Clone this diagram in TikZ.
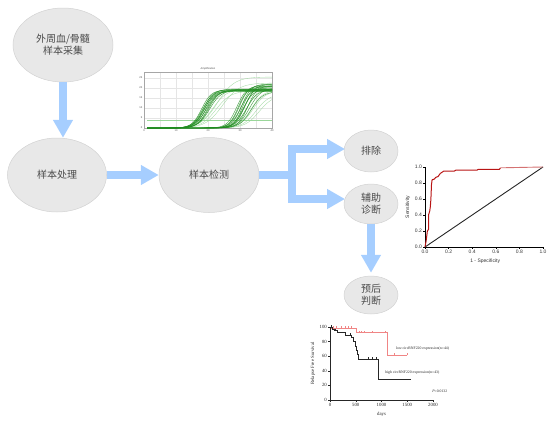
\documentclass[tikz,border=0pt]{standalone}
\usepackage{fontspec}
\setmainfont{Liberation Sans}
\newfontfamily\cjk{Noto Sans CJK SC}
\newfontfamily\plotserif{Liberation Serif}
\usetikzlibrary{arrows.meta,shapes.geometric}
\definecolor{flowblue}{HTML}{A6CEFF}
\definecolor{ellfill}{HTML}{E8E8E8}
\definecolor{elldraw}{HTML}{D2D2D2}
\definecolor{cjktext}{HTML}{4A4A4A}
\definecolor{pcrdark}{HTML}{1E8C1E}
\definecolor{pcrlight}{HTML}{9AD69A}
\definecolor{rocred}{HTML}{B81414}
\definecolor{kmred}{HTML}{F08585}
\tikzset{
  stage/.style={ellipse, fill=ellfill, draw=elldraw, line width=0.5pt, inner sep=0pt,
    align=center, text=cjktext, font=\cjk\fontsize{10}{12}\selectfont},
  flow/.style={draw=flowblue, line width=8pt, line join=miter,
    -{Triangle[width=19pt,length=18pt]}},
  flowline/.style={draw=flowblue, line width=8pt},
  tinylab/.style={font=\fontsize{2.6}{3}\selectfont, text=black!70, inner sep=0.6pt},
  roclab/.style={font=\fontsize{5}{6}\selectfont, text=black!80, inner sep=1pt},
  kmlab/.style={font=\plotserif\fontsize{4.8}{5.5}\selectfont, text=black!85, inner sep=1pt},
}
\begin{document}
\begin{tikzpicture}[x=1pt,y=-1pt]
\path[use as bounding box] (0,0) rectangle (554,424);

% ---- stages ----
\node[stage, minimum width=100pt, minimum height=74pt] (collect) at (63,45) {外周血/骨髓\\样本采集};
\node[stage, minimum width=99pt, minimum height=74pt] (handle) at (57,175) {样本处理};
\node[stage, minimum width=100pt, minimum height=75pt] (detect) at (209,175) {样本检测};
\node[stage, minimum width=54pt, minimum height=42pt] (exclude) at (371,151) {排除};
\node[stage, minimum width=54pt, minimum height=40pt] (diag) at (371,204) {辅助\\诊断};
\node[stage, minimum width=54pt, minimum height=38pt] (prog) at (371,295) {预后\\判断};

% ---- connectors ----
\coordinate (j) at (292,175);
\coordinate (e1) at (345,149);
\coordinate (e2) at (345,199);
\draw[flow] (collect.south) -- (collect.south |- handle.north);
\draw[flow] (handle) -- (detect);
\draw[flowline] (detect) -- (j);
\draw[flow] (j) |- (e1);
\draw[flow] (j) |- (e2);
\draw[flow, shorten >=3pt] (diag) -- (prog);

% ---- qPCR amplification plot ----
\node[tinylab] (amptitle) at (208,68.5) {Amplification};
\begin{scope}[shift={(144,128)}, x=3.2pt, y=2pt]
  \foreach \c in {5,10,...,35} \draw[black!10, line width=0.2pt] (\c,0) -- (\c,28);
  \foreach \v in {5,10,...,25} \draw[black!10, line width=0.2pt] (0,\v) -- (40,\v);
  \draw[black!35, line width=0.3pt] (0,0) rectangle (40,28);
  \foreach \c in {0,10,20,30,40} \node[tinylab, below] at (\c,-0.3) {\c};
  \foreach \v in {0,5,...,25} \node[tinylab, left] at (-0.3,\v) {\v};
  \draw[pcrlight, line width=1.3pt] (1,3.7) -- (40,3.7);
  % light curves
  \foreach \m/\p/\s in {23/25.5/2.6, 24.5/22.5/2.6, 21.5/19.5/2.2, 22.5/18.5/2.3, 34/18.5/2, 35/17/2.1, 36/16.5/2.2, 33.5/19/1.9, 32.5/21.5/2}
    \draw[pcrlight, line width=0.35pt, opacity=0.9]
      plot[domain=1:40, samples=50, smooth] (\x, {\p/(1+exp(min(9,-(\x-\m)/\s)))});
  % early group
  \foreach \m/\p/\s in {18.0/19.0/1.5, 18.3/18.6/1.6, 18.6/19.2/1.5, 18.8/18.8/1.7, 19.0/19.5/1.6, 19.2/18.3/1.5, 19.5/19.0/1.8, 19.8/18.6/1.6, 20.2/19.3/1.7, 20.5/18.9/1.8}
    \draw[pcrdark, line width=0.45pt, opacity=0.85]
      plot[domain=1:40, samples=50, smooth] (\x, {\p/(1+exp(min(9,-(\x-\m)/\s)))});
  % late group
  \foreach \m/\p/\s in {29.0/21.0/1.5, 29.4/20.5/1.4, 29.8/21.6/1.5, 30.2/20.0/1.6, 30.5/22.0/1.5, 30.8/21.0/1.4, 31.0/19.5/1.6, 31.3/20.8/1.5, 31.6/22.0/1.6, 32.0/19.2/1.7, 32.4/21.2/1.5, 33.0/20.0/1.8, 33.5/18.2/1.8}
    \draw[pcrdark, line width=0.45pt, opacity=0.8]
      plot[domain=1:40, samples=50, smooth] (\x, {\p/(1+exp(min(9,-(\x-\m)/\s)))});
\end{scope}

% ---- ROC plot ----
\begin{scope}[shift={(425,247)}, x=118pt, y=80pt]
  \draw[black, line width=0.6pt] (0,1) -- (0,0) -- (1,0);
  \foreach \t in {0.0,0.2,0.4,0.6,0.8,1.0} {
    \draw[black, line width=0.5pt] (0,\t) -- ++(-2pt,0);
    \node[roclab, left] at ([xshift=-2pt]0,\t) {\t};
    \draw[black, line width=0.5pt] (\t,0) -- ++(0,-2pt);
    \node[roclab, below] at ([yshift=-2pt]\t,0) {\t};
  }
  \draw[black!85, line width=0.9pt] (0,0) -- (1,1);
  \draw[rocred, line width=1pt, line join=round]
    (0,0) -- (0.01,0.08) -- (0.02,0.2) -- (0.03,0.22) -- (0.03,0.4) -- (0.04,0.45)
    -- (0.045,0.5) -- (0.05,0.6) -- (0.055,0.78) -- (0.06,0.84) -- (0.08,0.85)
    -- (0.09,0.87) -- (0.11,0.88) -- (0.13,0.92) -- (0.16,0.95) -- (0.25,0.95)
    -- (0.26,0.96) -- (0.44,0.96) -- (0.45,0.97) -- (0.63,0.97) -- (0.64,0.99);
  \draw[rocred!60, line width=0.9pt] (0.64,0.99) -- (1,1);
  \node[roclab] (spec) at (0.51,-0.175) {1 - Specificity};
  \node[roclab, rotate=90] (sens) at (-0.145,0.5) {Sensitivity};
\end{scope}

% ---- Kaplan-Meier plot ----
\begin{scope}[shift={(330,400)}, x=0.0515pt, y=0.73pt]
  \draw[black!85, line width=0.6pt] (0,100) -- (0,0) -- (2000,0);
  \foreach \v in {0,20,...,100} {
    \draw[black!85, line width=0.5pt] (0,\v) -- ++(-2pt,0);
    \node[kmlab, left] at ([xshift=-2pt]0,\v) {\v};
  }
  \foreach \d in {0,500,...,2000} {
    \draw[black!85, line width=0.5pt] (\d,0) -- ++(0,-2pt);
    \node[kmlab, below] at ([yshift=-2pt]\d,0) {\d};
  }
  \draw[kmred, line width=0.8pt]
    (0,100) -- (30,100) -- (30,98) -- (520,98) -- (520,92) -- (1120,92) -- (1120,61) -- (1500,61);
  \foreach \d/\v in {60/98, 120/98, 220/98, 300/98, 360/98, 420/98, 560/92, 600/92, 660/92, 830/92, 1080/92, 1250/61, 1500/61}
    \draw[kmred, line width=0.5pt] (\d,\v) -- ++(0,2pt);
  \draw[black!85, line width=0.9pt]
    (0,100) -- (40,100) -- (40,97) -- (80,97) -- (80,95) -- (150,95) -- (150,92)
    -- (300,92) -- (300,89) -- (420,89) -- (420,86) -- (460,86) -- (460,80)
    -- (490,80) -- (490,74) -- (510,74) -- (510,68) -- (530,68) -- (530,62)
    -- (560,62) -- (560,56) -- (940,56) -- (940,28) -- (1570,28);
  \foreach \d/\v in {20/100, 100/95, 400/89, 750/56, 830/56, 900/56}
    \draw[black!85, line width=0.5pt] (\d,\v) -- ++(0,2pt);
  \node[kmlab] (days) at (1000,-19) {days};
  \node[kmlab, rotate=90] (rfs) at (-330,50) {Relapse Free Survival};
  \node[kmlab, anchor=west, font=\plotserif\fontsize{3.8}{4.5}\selectfont] (lowlab) at (1260,70) {low circRNF220 expression(n=44)};
  \node[kmlab, anchor=west, font=\plotserif\fontsize{3.8}{4.5}\selectfont] (highlab) at (1050,37) {high circRNF220 expression(n=43)};
  \node[kmlab, anchor=east, font=\plotserif\fontsize{3.8}{4.5}\selectfont] (pval) at (2300,12) {\textit{P}=0.0132};
\end{scope}
\end{tikzpicture}
\end{document}
